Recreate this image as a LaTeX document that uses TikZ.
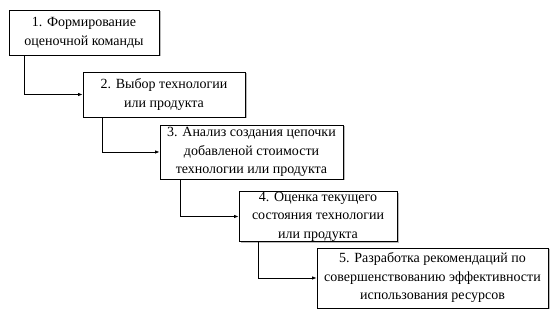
\documentclass[tikz,border=0pt]{standalone}
\usepackage{fontspec}
\setmainfont{Liberation Serif}
\usetikzlibrary{arrows.meta,shadows}
\begin{document}
\begin{tikzpicture}[x=1pt,y=-1pt,
  box/.style={draw, line width=0.8pt, fill=white, inner sep=0pt, align=center,
    font=\fontsize{14}{18.5}\selectfont,
    drop shadow={shadow xshift=1.5pt, shadow yshift=-1.5pt, fill=black!45, opacity=0.6}},
  arr/.style={line width=0.8pt, -{Latex[length=4.5pt,width=3.5pt]}}]
\useasboundingbox (0,0) rectangle (558,312);
\node[box, minimum width=150pt, minimum height=45pt] (b1) at (84,32.5) {1. Формирование\\оценочной команды};
\node[box, minimum width=162pt, minimum height=45pt] (b2) at (164,94.5) {2. Выбор технологии\\или продукта};
\node[box, minimum width=183pt, minimum height=54pt] (b3) at (251.5,152) {3. Анализ создания цепочки\\добавленой стоимости\\технологии или продукта};
\node[box, minimum width=158pt, minimum height=45pt] (b4) at (318,216.5) {4. Оценка текущего\\состояния технологии\\или продукта};
\node[box, minimum width=231pt, minimum height=60pt] (b5) at (432.5,278) {5. Разработка рекомендаций по\\совершенствованию эффективности\\использования ресурсов};
\draw[arr] ([xshift=16pt]b1.south west) |- (b2.west);
\draw[arr] ([xshift=20pt]b2.south west) |- (b3.west);
\draw[arr] ([xshift=21pt]b3.south west) |- (b4.west);
\draw[arr] ([xshift=20pt]b4.south west) |- (b5.west);
\end{tikzpicture}
\end{document}
